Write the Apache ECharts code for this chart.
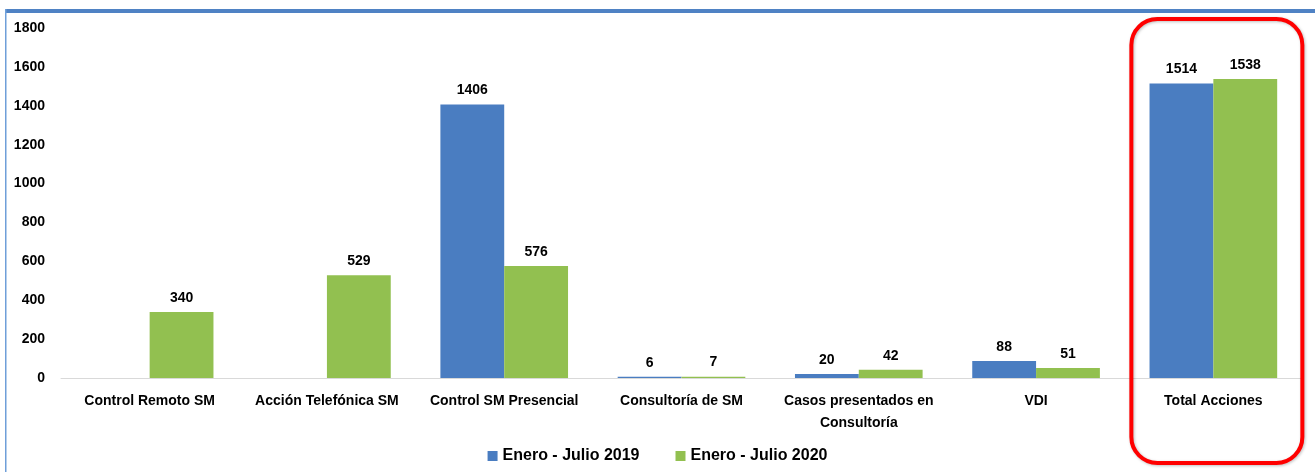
<!DOCTYPE html>
<html>
<head>
<meta charset="utf-8">
<script src="https://cdn.jsdelivr.net/npm/echarts@6/dist/echarts.min.js"></script>
<style>
  html, body { margin: 0; padding: 0; background: #ffffff; }
  #chart { width: 1315px; height: 472px; }
</style>
</head>
<body>
<div id="chart"></div>
<script>
// Acciones por tipo, comparación enero–julio 2019 vs 2020
const categories = [
  'Control Remoto SM',
  'Acción Telefónica SM',
  'Control SM Presencial',
  'Consultoría de SM',
  'Casos presentados en\nConsultoría',
  'VDI',
  'Total Acciones'
];
const seriesNames = ['Enero - Julio 2019', 'Enero - Julio 2020'];
const values2019 = [null, null, 1406, 6, 20, 88, 1514];
const values2020 = [340, 529, 576, 7, 42, 51, 1538];
const yTicks = { min: 0, max: 1800, interval: 200 };

const FONT = '"Liberation Sans", Arial, sans-serif';
const BLUE = '#4a7dc1';
const GREEN = '#92c050';

const chart = echarts.init(document.getElementById('chart'), null, { renderer: 'canvas' });

const labelStyle = {
  show: true,
  position: 'top',
  distance: 7,
  fontFamily: FONT,
  fontWeight: 'bold',
  fontSize: 14,
  color: '#000000'
};

chart.setOption({
  animation: false,
  backgroundColor: '#ffffff',
  textStyle: { fontFamily: FONT },
  grid: { left: 61, right: 13, top: 28, bottom: 94, containLabel: false },
  legend: {
    data: seriesNames,
    top: 443,
    left: 'center',
    itemWidth: 10,
    itemHeight: 10,
    itemGap: 36,
    icon: 'rect',
    textStyle: { fontFamily: FONT, fontWeight: 'bold', fontSize: 16, color: '#000000' }
  },
  xAxis: {
    type: 'category',
    data: categories,
    axisLine: { show: true, lineStyle: { color: '#d9d9d9', width: 1 } },
    axisTick: { show: false },
    axisLabel: {
      interval: 0,
      margin: 12,
      fontFamily: FONT,
      fontWeight: 'bold',
      fontSize: 14,
      lineHeight: 22,
      color: '#000000'
    }
  },
  yAxis: {
    type: 'value',
    min: yTicks.min,
    max: yTicks.max,
    interval: yTicks.interval,
    axisLine: { show: false },
    axisTick: { show: false },
    splitLine: { show: false },
    axisLabel: {
      margin: 16,
      formatter: (v) => String(v),
      fontFamily: FONT,
      fontWeight: 'bold',
      fontSize: 14,
      color: '#000000'
    }
  },
  series: [
    {
      name: seriesNames[0],
      type: 'bar',
      data: values2019,
      barGap: '0%',
      barCategoryGap: '28%',
      itemStyle: { color: BLUE },
      label: labelStyle
    },
    {
      name: seriesNames[1],
      type: 'bar',
      data: values2020,
      barGap: '0%',
      barCategoryGap: '28%',
      itemStyle: { color: GREEN },
      label: labelStyle
    }
  ]
});

// Frame lines and the highlight box around the totals column
const totalX = chart.convertToPixel({ xAxisIndex: 0 }, categories[categories.length - 1]);
chart.setOption({
  graphic: [
    {
      type: 'rect',
      shape: { x: 5, y: 9, width: 1310, height: 4 },
      style: { fill: '#4f82c4' },
      silent: true
    },
    {
      type: 'rect',
      shape: { x: 5, y: 9, width: 1.5, height: 463 },
      style: { fill: '#6f9fd9' },
      silent: true
    },
    {
      type: 'rect',
      shape: { x: totalX - 82, y: 19, width: 171, height: 444, r: 26 },
      style: {
        fill: 'none',
        stroke: '#ff0000',
        lineWidth: 4,
        shadowBlur: 3,
        shadowColor: 'rgba(0,0,0,0.25)',
        shadowOffsetX: 1,
        shadowOffsetY: 1
      },
      silent: true,
      z: 100
    }
  ]
});
</script>
</body>
</html>
